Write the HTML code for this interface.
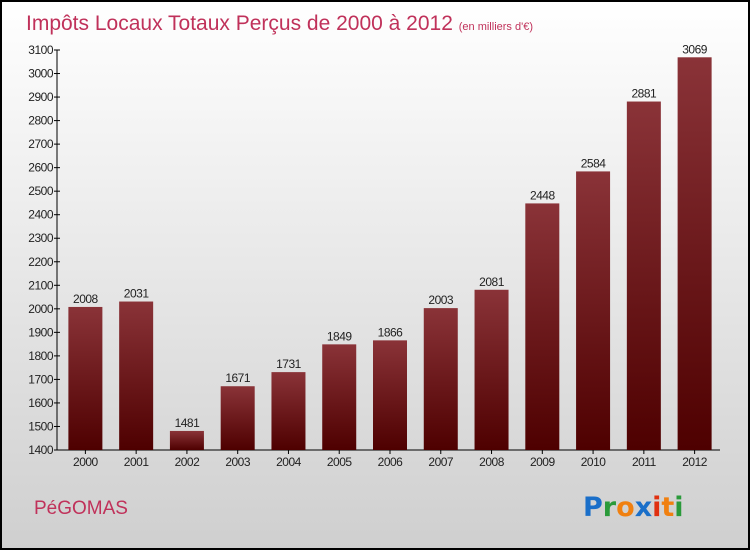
<!DOCTYPE html>
<html><head><meta charset="utf-8"><style>
body{margin:0;width:750px;height:550px;overflow:hidden;font-family:"Liberation Sans",sans-serif}
svg{display:block}
</style></head><body>
<svg id="chart" width="750" height="550">
<defs>
<linearGradient id="bg" x1="0" y1="0" x2="0" y2="1"><stop offset="0" stop-color="#ffffff"/><stop offset="1" stop-color="#cfcfcf"/></linearGradient>
<linearGradient id="bar" x1="0" y1="0" x2="0" y2="1"><stop offset="0" stop-color="#8a3338"/><stop offset="1" stop-color="#4e0000"/></linearGradient>
</defs>
<rect x="1" y="1" width="748" height="548" fill="url(#bg)" stroke="#000" stroke-width="2"/>
<text x="26" y="30" font-size="21" fill="#c0315a">Impôts Locaux Totaux Perçus de 2000 à 2012 <tspan font-size="11">(en milliers d'€)</tspan></text>
<text x="34" y="514" font-size="19" fill="#c0315a">PéGOMAS</text>
<g font-size="27" font-weight="bold" font-family="'DejaVu Sans',sans-serif">
<text x="583" y="516"><tspan fill="#1a6fc9">P</tspan><tspan fill="#2a9a3a">r</tspan><tspan fill="#f08010">o</tspan><tspan fill="#1a6fc9">x</tspan><tspan fill="#e03010">i</tspan><tspan fill="#f08010">t</tspan><tspan fill="#2a9a3a">i</tspan></text>
</g>
<g id="axes"></g><g id="bars"></g>
</svg>
<script>
const years=["2000","2001","2002","2003","2004","2005","2006","2007","2008","2009","2010","2011","2012"];
const values=[2008,2031,1481,1671,1731,1849,1866,2003,2081,2448,2584,2881,3069];
const yTicks=[1400,1500,1600,1700,1800,1900,2000,2100,2200,2300,2400,2500,2600,2700,2800,2900,3000,3100];
const NS="http://www.w3.org/2000/svg";
const yMin=1400,yMax=3100,plotTop=50,plotBot=450,x0=60,x1=720;
const yS=v=>plotBot-(v-yMin)/(yMax-yMin)*(plotBot-plotTop);
const step=(x1-x0)/years.length;
const xc=i=>x0+step*(i+0.5);
function mk(t,a,p){const e=document.createElementNS(NS,t);for(const k in a)e.setAttribute(k,a[k]);p.appendChild(e);return e;}
const ax=document.getElementById('axes'),bg=document.getElementById('bars');
const yl=mk('line',{x1:57,y1:plotTop,x2:57,y2:plotBot,stroke:'#000'},ax);


const xl=mk('line',{x1:57,y1:plotBot,x2:x1,y2:plotBot,stroke:'#000'},ax);


yTicks.forEach(v=>{
 mk('line',{x1:54,x2:60,y1:yS(v),y2:yS(v),stroke:'#000'},ax);
 const t=mk('text',{x:53,y:yS(v)+4,'text-anchor':'end','font-size':12,fill:'#222','letter-spacing':'-0.5'},ax);
 t.textContent=v;
 
 
});
years.forEach((yr,i)=>{
 const v=values[i],cx=xc(i),w=34;
 const r=mk('rect',{x:cx-w/2,y:yS(v),width:w,height:plotBot-yS(v),fill:'url(#bar)'},bg);
 
 
 const l=mk('text',{x:cx,y:yS(v)-4,'text-anchor':'middle','font-size':12,fill:'#222','letter-spacing':'-0.5'},bg);
 l.textContent=v;
 
 
 mk('line',{x1:cx,x2:cx,y1:plotBot,y2:plotBot+4,stroke:'#000'},ax);
 const xt=mk('text',{x:cx,y:plotBot+16,'text-anchor':'middle','font-size':12,fill:'#222','letter-spacing':'-0.5'},ax);
 xt.textContent=yr;
 
 
});
</script>
</body></html>
